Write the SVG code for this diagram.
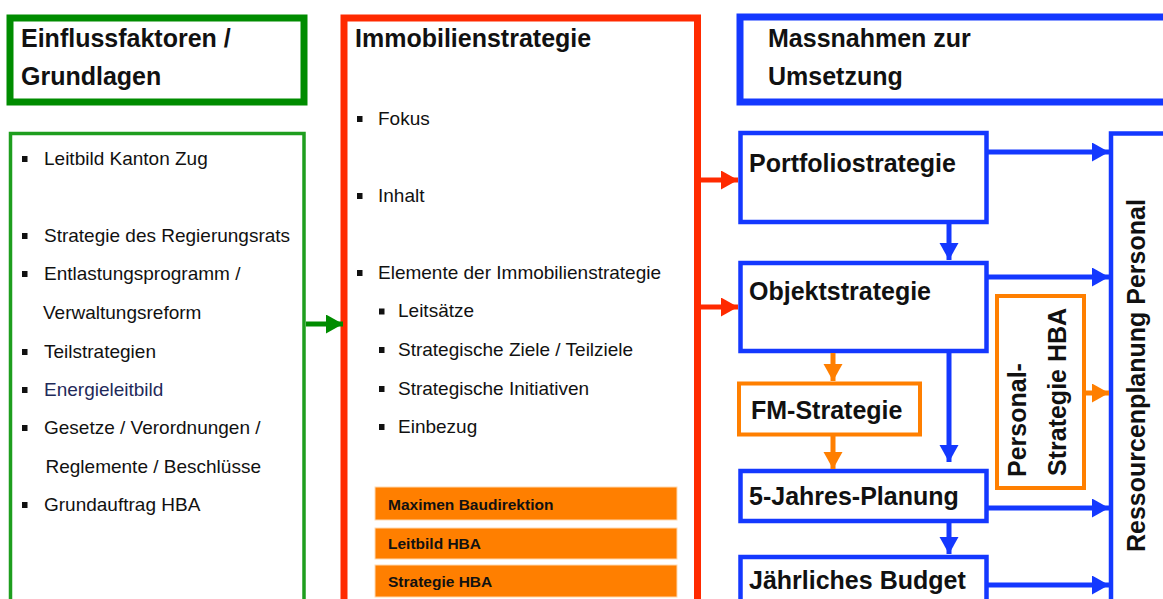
<svg xmlns="http://www.w3.org/2000/svg" width="1163" height="599" viewBox="0 0 1163 599">
<style>
.t{font-family:"Liberation Sans",Arial,sans-serif;font-weight:bold;font-size:25px;fill:#111}
.b{font-family:"Liberation Sans",Arial,sans-serif;font-size:19px;fill:#111}
.ob{font-family:"Liberation Sans",Arial,sans-serif;font-weight:bold;font-size:15.5px;fill:#111}
.blue{fill:#fff;stroke:#1438ff;stroke-width:4.5}
.orng{fill:#fff;stroke:#ff7f00;stroke-width:4}
.bar{fill:#ff7f00;stroke:#ffd9b0;stroke-width:1}
.c{fill:none;stroke-width:5}
</style>
<defs>
<marker id="ab" markerUnits="userSpaceOnUse" markerWidth="18" markerHeight="20" refX="17" refY="9.5" orient="auto"><path d="M0,0 L17,9.5 L0,19 z" fill="#1438ff"/></marker>
<marker id="ar" markerUnits="userSpaceOnUse" markerWidth="18" markerHeight="20" refX="17" refY="9.5" orient="auto"><path d="M0,0 L17,9.5 L0,19 z" fill="#ff2a00"/></marker>
<marker id="ag" markerUnits="userSpaceOnUse" markerWidth="18" markerHeight="20" refX="17" refY="9.5" orient="auto"><path d="M0,0 L17,9.5 L0,19 z" fill="#008c00"/></marker>
<marker id="ao" markerUnits="userSpaceOnUse" markerWidth="18" markerHeight="20" refX="17" refY="9.5" orient="auto"><path d="M0,0 L17,9.5 L0,19 z" fill="#ff7f00"/></marker>
<rect id="sq" width="5.5" height="6" fill="#111"/>
</defs>
<rect width="1163" height="599" fill="#fff"/>

<g id="einfluss-title">
<rect x="10" y="18" width="294" height="84" fill="#fff" stroke="#008c00" stroke-width="7"/>
<text class="t" x="21" y="47">Einflussfaktoren /</text>
<text class="t" x="21" y="85">Grundlagen</text>
</g>

<g id="einfluss-list">
<rect x="10.5" y="133.5" width="293.5" height="500" fill="#fff" stroke="#1e9e1e" stroke-width="3.5"/>
<use href="#sq" x="22" y="156"/><text class="b" x="44" y="164.5">Leitbild Kanton Zug</text>
<use href="#sq" x="22" y="233"/><text class="b" x="44" y="241.5">Strategie des Regierungsrats</text>
<use href="#sq" x="22" y="271"/><text class="b" x="44" y="279.5">Entlastungsprogramm /</text>
<text class="b" x="43" y="318.5">Verwaltungsreform</text>
<use href="#sq" x="22" y="349"/><text class="b" x="44" y="357.5">Teilstrategien</text>
<use href="#sq" x="22" y="387" fill="#1f2a5a"/><text class="b" x="44" y="395.5" style="fill:#1f2a5a">Energieleitbild</text>
<use href="#sq" x="22" y="425"/><text class="b" x="44" y="433.5">Gesetze / Verordnungen /</text>
<text class="b" x="45.5" y="472.5">Reglemente / Beschlüsse</text>
<use href="#sq" x="22" y="502"/><text class="b" x="44" y="510.5">Grundauftrag HBA</text>
</g>

<g id="immobilienstrategie">
<rect x="344" y="18" width="353.5" height="620" fill="#fff" stroke="#ff2a00" stroke-width="7"/>
<text class="t" x="355" y="47">Immobilienstrategie</text>
<use href="#sq" x="357" y="116"/><text class="b" x="378" y="124.5">Fokus</text>
<use href="#sq" x="357" y="193"/><text class="b" x="378" y="201.5">Inhalt</text>
<use href="#sq" x="357" y="270"/><text class="b" x="378" y="278.5">Elemente der Immobilienstrategie</text>
<use href="#sq" x="379" y="308.5"/><text class="b" x="398" y="317">Leitsätze</text>
<use href="#sq" x="379" y="347"/><text class="b" x="398" y="355.5">Strategische Ziele / Teilziele</text>
<use href="#sq" x="379" y="386"/><text class="b" x="398" y="394.5">Strategische Initiativen</text>
<use href="#sq" x="379" y="424"/><text class="b" x="398" y="432.5">Einbezug</text>
</g>

<g id="maximen">
<rect class="bar" x="375" y="487" width="302" height="33"/>
<text class="ob" x="388" y="510">Maximen Baudirektion</text>
</g>
<g id="leitbild-hba">
<rect class="bar" x="375" y="528" width="302" height="31"/>
<text class="ob" x="388" y="549">Leitbild HBA</text>
</g>
<g id="strategie-hba">
<rect class="bar" x="375" y="565" width="302" height="32"/>
<text class="ob" x="388" y="587">Strategie HBA</text>
</g>

<g id="massnahmen-title">
<rect x="740" y="17" width="500" height="85" fill="#fff" stroke="#1438ff" stroke-width="7"/>
<text class="t" x="768" y="47">Massnahmen zur</text>
<text class="t" x="768" y="85">Umsetzung</text>
</g>

<g id="portfolio">
<rect class="blue" x="740.5" y="133" width="246" height="89"/>
<text class="t" x="749" y="172">Portfoliostrategie</text>
</g>
<g id="objekt">
<rect class="blue" x="740.5" y="263" width="246" height="88"/>
<text class="t" x="749" y="300">Objektstrategie</text>
</g>
<g id="fm">
<rect class="orng" x="739" y="383.5" width="181" height="51"/>
<text class="t" x="751" y="419">FM-Strategie</text>
</g>
<g id="jahresplanung">
<rect class="blue" x="740.5" y="471" width="246" height="50"/>
<text class="t" x="749" y="505">5-Jahres-Planung</text>
</g>
<g id="budget">
<rect class="blue" x="740.5" y="557" width="246" height="80"/>
<text class="t" x="749" y="589">Jährliches Budget</text>
</g>
<g id="personal-strategie">
<rect class="orng" x="997" y="296" width="87" height="192"/>
<text class="t" transform="translate(1026,477) rotate(-90)">Personal-</text>
<text class="t" transform="translate(1066,476) rotate(-90)">Strategie HBA</text>
</g>
<g id="ressourcen">
<rect class="blue" x="1111" y="133.5" width="100" height="500"/>
<text class="t" transform="translate(1145,552) rotate(-90)">Ressourcenplanung Personal</text>
</g>

<g id="connectors">
<path class="c" d="M306,324 H343" stroke="#008c00" marker-end="url(#ag)"/>
<path class="c" d="M701,180 H738" stroke="#ff2a00" marker-end="url(#ar)"/>
<path class="c" d="M701,307 H738" stroke="#ff2a00" marker-end="url(#ar)"/>
<path class="c" d="M988,152 H1109" stroke="#1438ff" marker-end="url(#ab)"/>
<path class="c" d="M988,277 H1109" stroke="#1438ff" marker-end="url(#ab)"/>
<path class="c" d="M988,508 H1109" stroke="#1438ff" marker-end="url(#ab)"/>
<path class="c" d="M988,585 H1109" stroke="#1438ff" marker-end="url(#ab)"/>
<path class="c" d="M949,224 V260" stroke="#1438ff" marker-end="url(#ab)"/>
<path class="c" d="M949,353 V462" stroke="#1438ff" marker-end="url(#ab)"/>
<path class="c" d="M949,523 V554" stroke="#1438ff" marker-end="url(#ab)"/>
<path class="c" d="M833,353 V381" stroke="#ff7f00" marker-end="url(#ao)"/>
<path class="c" d="M833,436 V469" stroke="#ff7f00" marker-end="url(#ao)"/>
<path class="c" d="M1086,393 H1109" stroke="#ff7f00" marker-end="url(#ao)"/>
</g>
</svg>
